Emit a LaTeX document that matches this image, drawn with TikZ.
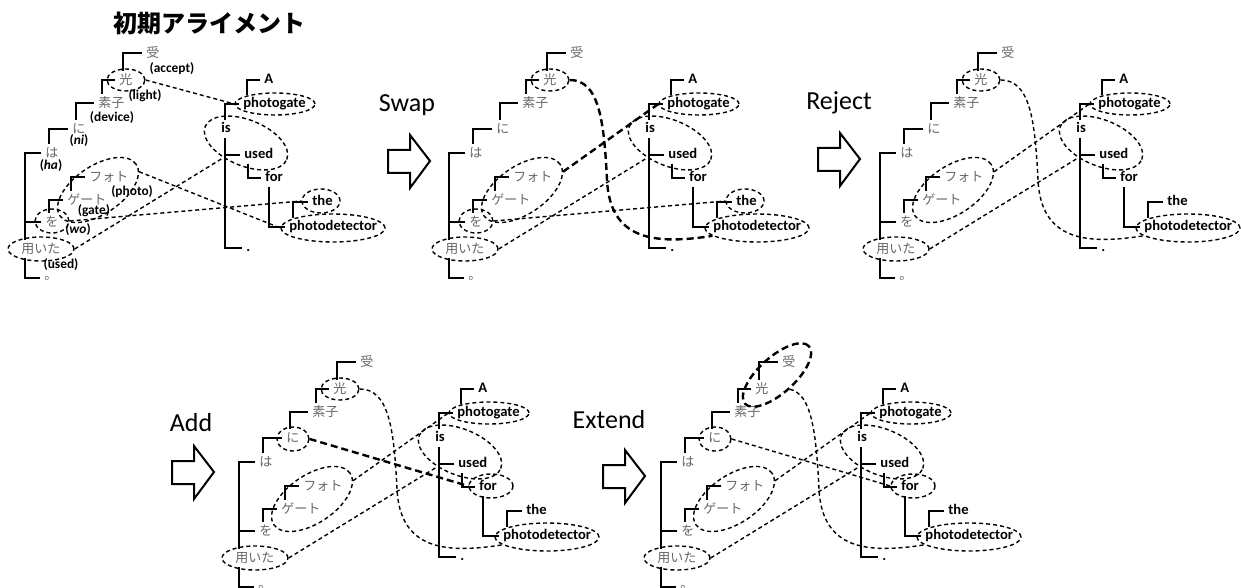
\documentclass[tikz,border=0pt]{standalone}
\usepackage{fontspec}
\setmainfont{Carlito}
\newfontfamily\jfont{Noto Sans CJK JP}
\usetikzlibrary{shapes,arrows}
\usetikzlibrary{calc}

\tikzset{
  jw/.style={anchor=west, inner sep=1pt, text=black!60, font=\jfont\fontsize{6.5}{7}\selectfont, text height=5.5pt, text depth=1pt},
  ew/.style={anchor=west, inner sep=1pt, font=\bfseries\fontsize{7.3}{8}\selectfont, text height=5.2pt, text depth=1.4pt},
  gl/.style={font=\bfseries\fontsize{6.7}{8}\selectfont, inner sep=0pt},
  br/.style={line width=1.2pt, shorten <=1pt},
  ell/.style={draw, ellipse, inner sep=0pt, line width=.7pt, dash pattern=on 2pt off 1.5pt},
  ellb/.style={draw, ellipse, inner sep=0pt, line width=1.2pt, dash pattern=on 3.5pt off 2pt},
  lnk/.style={line width=.7pt, dash pattern=on 2pt off 1.5pt},
  lnkb/.style={line width=1.2pt, dash pattern=on 3.5pt off 2pt},
  stage/.style={anchor=base, font=\fontsize{13}{15}\selectfont},
  blk/.style={line width=1pt}
}

\newcommand{\deptrees}{%
\node[jw] (j1) at (144,53) {受};
\node[jw] (j2) at (117,80) {光};
\node[jw] (j3) at (96,103) {素子};
\node[jw] (j4) at (70,129) {に};
\node[jw] (j5) at (43,153) {は};
\node[jw] (j6) at (87,177) {フォト};
\node[jw] (j7) at (65,200) {ゲート};
\node[jw] (j8) at (43,222) {を};
\node[jw] (j9) at (19,249) {用いた};
\node[jw, text height=2pt] (j10) at (42,278) {。};
\draw[br] (j1.west) -| ([xshift=3pt]j2.north west);
\draw[br] (j2.west) -| ([xshift=3pt]j3.north west);
\draw[br] (j3.west) -| ([xshift=3pt]j4.north west);
\draw[br] (j4.west) -| ([xshift=3pt]j5.north west);
\draw[br] (j5.west) -| ([xshift=3pt]j9.north west);
\draw[br] (j6.west) -| ([xshift=3pt]j7.north west);
\draw[br] (j7.west) -| ([xshift=3pt]j8.north west);
\draw[br] (j8.west) -- ([xshift=3pt]j8.west -| j9.west);
\draw[br] (j10.west) -| ([xshift=3pt]j9.south west);
\node[ew] (e1) at (262,80) {A};
\node[ew] (e2) at (241,104) {photogate};
\node[ew] (e3) at (219,129) {is};
\node[ew] (e4) at (242,155) {used};
\node[ew] (e5) at (263,178) {for};
\node[ew] (e6) at (310,202) {the};
\node[ew] (e7) at (287,227) {photodetector};
\node[ew] (e8) at (244,248) {.};
\draw[br] (e1.west) -| ([xshift=3pt]e2.north west);
\draw[br] (e2.west) -| ([xshift=3pt]e3.north west);
\draw[br] (e4.west) -| ([xshift=3pt]e3.south west);
\draw[br] (e8.west) -| ([xshift=3pt]e3.south west);
\draw[br] (e5.west) -| ([xshift=3pt]e4.south west);
\draw[br] (e7.west) -| ([xshift=3pt]e5.south west);
\draw[br] (e6.west) -| ([xshift=3pt]e7.north west);
}

\begin{document}
\begin{tikzpicture}[x=0.5pt, y=-0.5pt]
\useasboundingbox (0,0) rectangle (1241,588);

\node[font=\jfont\bfseries\fontsize{12}{14}\selectfont] (title) at (209,23) {初期アライメント};

\deptrees
\node[gl] (g1) at (172,69) {(accept)};
\node[gl] (g2) at (145,96) {(light)};
\node[gl] (g3) at (112,118) {(device)};
\node[gl] (g4) at (79,141) {(\textit{ni})};
\node[gl] (g5) at (51,166) {(\textit{ha})};
\node[gl] (g6) at (132,192) {(photo)};
\node[gl] (g7) at (94,211) {(gate)};
\node[gl] (g8) at (78,230) {(\textit{wo})};
\node[gl] (g9) at (61,265) {(used)};

\node[ell, minimum width=19pt, minimum height=11pt] (hk) at (126,80) {};
\node[ell, minimum width=40pt, minimum height=11pt] (pg) at (275,104) {};
\node[ell, minimum width=44pt, minimum height=23pt, rotate=-22] (iu) at (246,143) {};
\node[ell, minimum width=46pt, minimum height=24pt, rotate=34] (fg) at (98,190) {};
\node[ell, minimum width=17pt, minimum height=12pt] (wo) at (52,221) {};
\node[ell, minimum width=33pt, minimum height=12pt] (mi) at (41,249) {};
\node[ell, minimum width=19pt, minimum height=12pt] (th) at (321,201) {};
\node[ell, minimum width=52pt, minimum height=14pt] (pd) at (333,228) {};
\draw[lnk] (hk.east) -- (pg.west);
\draw[lnk] (fg.-10) -- (pd.west);
\draw[lnk] (wo.east) -- (th.west);
\draw[lnk] (mi.east) -- (iu.235);

\begin{scope}[shift={(424,0)}]
\node[stage] (lab) at (-17,112) {Swap};
\draw[blk, shift={(-36,161)}] (0,-11) -- (22,-11) -- (22,-26) -- (42,0) -- (22,27) -- (22,12) -- (0,12) -- cycle;
\deptrees
\node[ell, minimum width=19pt, minimum height=11pt] (hk) at (126,80) {};
\node[ell, minimum width=40pt, minimum height=11pt] (pg) at (275,104) {};
\node[ell, minimum width=44pt, minimum height=23pt, rotate=-22] (iu) at (246,143) {};
\node[ell, minimum width=46pt, minimum height=24pt, rotate=34] (fg) at (98,190) {};
\node[ell, minimum width=17pt, minimum height=12pt] (wo) at (52,221) {};
\node[ell, minimum width=33pt, minimum height=12pt] (mi) at (41,249) {};
\node[ell, minimum width=19pt, minimum height=12pt] (th) at (321,201) {};
\node[ell, minimum width=52pt, minimum height=14pt] (pd) at (333,228) {};
\draw[lnkb] (hk.east) .. controls (175,80) and (180,120) .. (183,180) .. controls (186,240) and (230,245) .. (pd.190);
\draw[lnkb] (fg.-10) -- (pg.west);
\draw[lnk] (wo.east) -- (th.west);
\draw[lnk] (mi.east) -- (iu.235);
\end{scope}

\begin{scope}[shift={(855,0)}]
\node[stage] (lab) at (-16,110) {Reject};
\draw[blk, shift={(-37,159)}] (0,-11) -- (22,-11) -- (22,-26) -- (42,0) -- (22,27) -- (22,12) -- (0,12) -- cycle;
\deptrees
\node[ell, minimum width=19pt, minimum height=11pt] (hk) at (126,80) {};
\node[ell, minimum width=40pt, minimum height=11pt] (pg) at (275,104) {};
\node[ell, minimum width=44pt, minimum height=23pt, rotate=-22] (iu) at (246,143) {};
\node[ell, minimum width=46pt, minimum height=24pt, rotate=34] (fg) at (98,190) {};
\node[ell, minimum width=33pt, minimum height=12pt] (mi) at (41,249) {};
\node[ell, minimum width=52pt, minimum height=14pt] (pd) at (333,228) {};
\draw[lnk] (hk.east) .. controls (175,80) and (180,120) .. (183,180) .. controls (186,240) and (230,245) .. (pd.190);
\draw[lnk] (fg.-10) -- (pg.west);
\draw[lnk] (mi.east) -- (iu.235);
\end{scope}

\begin{scope}[shift={(214,309)}]
\node[stage] (lab) at (-23,122) {Add};
\draw[blk, shift={(-42,163)}] (0,-11) -- (22,-11) -- (22,-26) -- (42,0) -- (22,27) -- (22,12) -- (0,12) -- cycle;
\deptrees
\node[ell, minimum width=19pt, minimum height=11pt] (hk) at (126,80) {};
\node[ell, minimum width=16pt, minimum height=12pt] (ni) at (79,130) {};
\node[ell, minimum width=40pt, minimum height=11pt] (pg) at (275,104) {};
\node[ell, minimum width=44pt, minimum height=23pt, rotate=-22] (iu) at (246,143) {};
\node[ell, minimum width=22pt, minimum height=12pt] (fr) at (277,177) {};
\node[ell, minimum width=46pt, minimum height=24pt, rotate=34] (fg) at (98,190) {};
\node[ell, minimum width=33pt, minimum height=12pt] (mi) at (41,249) {};
\node[ell, minimum width=52pt, minimum height=14pt] (pd) at (333,228) {};
\draw[lnk] (hk.east) .. controls (175,80) and (180,120) .. (183,180) .. controls (186,240) and (230,245) .. (pd.190);
\draw[lnk] (fg.-10) -- (pg.west);
\draw[lnk] (mi.east) -- (iu.235);
\draw[lnkb] (ni.east) -- (fr.west);
\end{scope}

\begin{scope}[shift={(636,309)}]
\node[stage] (lab) at (-27,119) {Extend};
\draw[blk, shift={(-33,167)}] (0,-11) -- (22,-11) -- (22,-26) -- (42,0) -- (22,27) -- (22,12) -- (0,12) -- cycle;
\deptrees
\node[ellb, minimum width=43pt, minimum height=18pt, rotate=42] (uh) at (141,66) {};
\node[ell, minimum width=16pt, minimum height=12pt] (ni) at (79,130) {};
\node[ell, minimum width=40pt, minimum height=11pt] (pg) at (275,104) {};
\node[ell, minimum width=44pt, minimum height=23pt, rotate=-22] (iu) at (246,143) {};
\node[ell, minimum width=22pt, minimum height=12pt] (fr) at (277,177) {};
\node[ell, minimum width=46pt, minimum height=24pt, rotate=34] (fg) at (98,190) {};
\node[ell, minimum width=33pt, minimum height=12pt] (mi) at (41,249) {};
\node[ell, minimum width=52pt, minimum height=14pt] (pd) at (333,228) {};
\draw[lnk] (uh.south) .. controls (175,85) and (180,120) .. (183,180) .. controls (186,240) and (230,245) .. (pd.190);
\draw[lnk] (fg.-10) -- (pg.west);
\draw[lnk] (mi.east) -- (iu.235);
\draw[lnk] (ni.east) -- (fr.west);
\end{scope}

\end{tikzpicture}
\end{document}
